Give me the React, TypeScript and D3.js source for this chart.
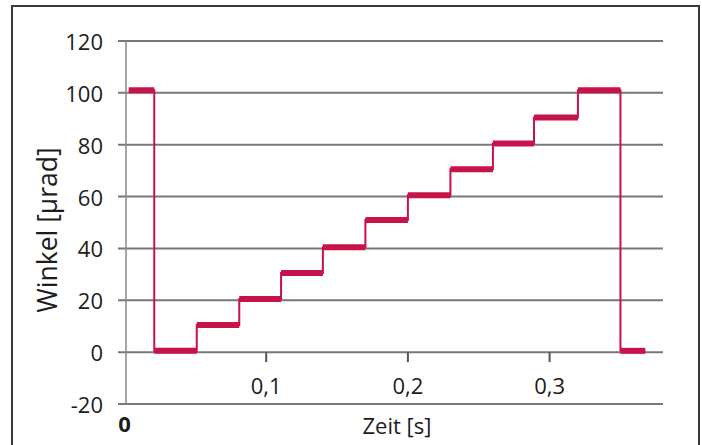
import * as d3 from "d3";

// step response: time (s) where each level starts, and level in µrad
const stepTimes = [0.003, 0.021, 0.051, 0.081, 0.1105, 0.14, 0.17, 0.2, 0.23, 0.26, 0.289, 0.32, 0.35, 0.3675];
const stepLevels = [101, 0.5, 10.5, 20.5, 30.5, 40.5, 51, 60.5, 70.5, 80.5, 90.5, 101, 0.5];
const yTicks = [-20, 0, 20, 40, 60, 80, 100, 120];
const xTicks = [0.1, 0.2, 0.3];

const W = 702;
const H = 445;
const font = "'Open Sans', 'Noto Sans', sans-serif";
const red = "#c8124a";
const ink = "#1c1c1c";

export default function App() {
  const x = d3.scaleLinear().domain([0, 0.4]).range([124.5, 124.5 + 1417 * 0.4]);
  const y = d3.scaleLinear().domain([-20, 120]).range([404, 41]);
  const gridLeft = 118;
  const gridRight = 663;

  const pts: [number, number][] = stepLevels.map((v, i) => [stepTimes[i], v]);
  pts.push([stepTimes[stepTimes.length - 1], stepLevels[stepLevels.length - 1]]);
  const line = d3.line<[number, number]>()
    .x(d => x(d[0]))
    .y(d => y(d[1]))
    .curve(d3.curveStepAfter);

  const fmt = (d: number) => d.toFixed(1).replace(".", ",");

  return (
    <svg width={W} height={H} style={{ position: "absolute", left: 0, top: 0, background: "#fff" }}>
      {/* frame */}
      <rect x={12} y={6} width={687} height={H + 10} fill="none" stroke="#3a3a3a" strokeWidth={2} />

      {/* gridlines */}
      {yTicks.map(t => (
        <line key={t} x1={gridLeft} x2={gridRight} y1={y(t)} y2={y(t)} stroke="#777" strokeWidth={2} />
      ))}
      <line x1={126} x2={126} y1={y(120)} y2={y(-20)} stroke="#888" strokeWidth={1.5} />

      {/* x ticks on zero line */}
      {xTicks.map(t => (
        <line key={t} x1={x(t)} x2={x(t)} y1={y(0)} y2={y(0) + 10} stroke="#555" strokeWidth={2} />
      ))}

      {/* y tick labels */}
      {yTicks.map(t => (
        <text key={t} x={103} y={y(t)} textAnchor="end" dominantBaseline="central"
          fontFamily={font} fontSize={22} fill={ink}>{t}</text>
      ))}

      {/* x tick labels */}
      {xTicks.map(t => (
        <text key={t} x={x(t)} y={385} textAnchor="middle" dominantBaseline="central"
          fontFamily={font} fontSize={22} fill={ink}>{fmt(t)}</text>
      ))}
      <text x={x(0)} y={423} textAnchor="middle" dominantBaseline="central"
        fontFamily={font} fontSize={22} fontWeight={700} fill={ink}>0</text>

      {/* axis titles */}
      <text x={397} y={425} textAnchor="middle" dominantBaseline="central"
        fontFamily={font} fontSize={22} fill={ink}>Zeit [s]</text>
      <text transform={`translate(47, 230) rotate(-90)`} textAnchor="middle" dominantBaseline="central"
        fontFamily={font} fontSize={26.5} fill={ink}>Winkel [µrad]</text>

      {/* signal */}
      <path d={line(pts) ?? ""} fill="none" stroke={red} strokeWidth={2} />
      {stepLevels.map((v, i) => (
        <line key={i} x1={x(stepTimes[i])} x2={x(stepTimes[i + 1])} y1={y(v)} y2={y(v)}
          stroke={red} strokeWidth={6} />
      ))}
    </svg>
  );
}
